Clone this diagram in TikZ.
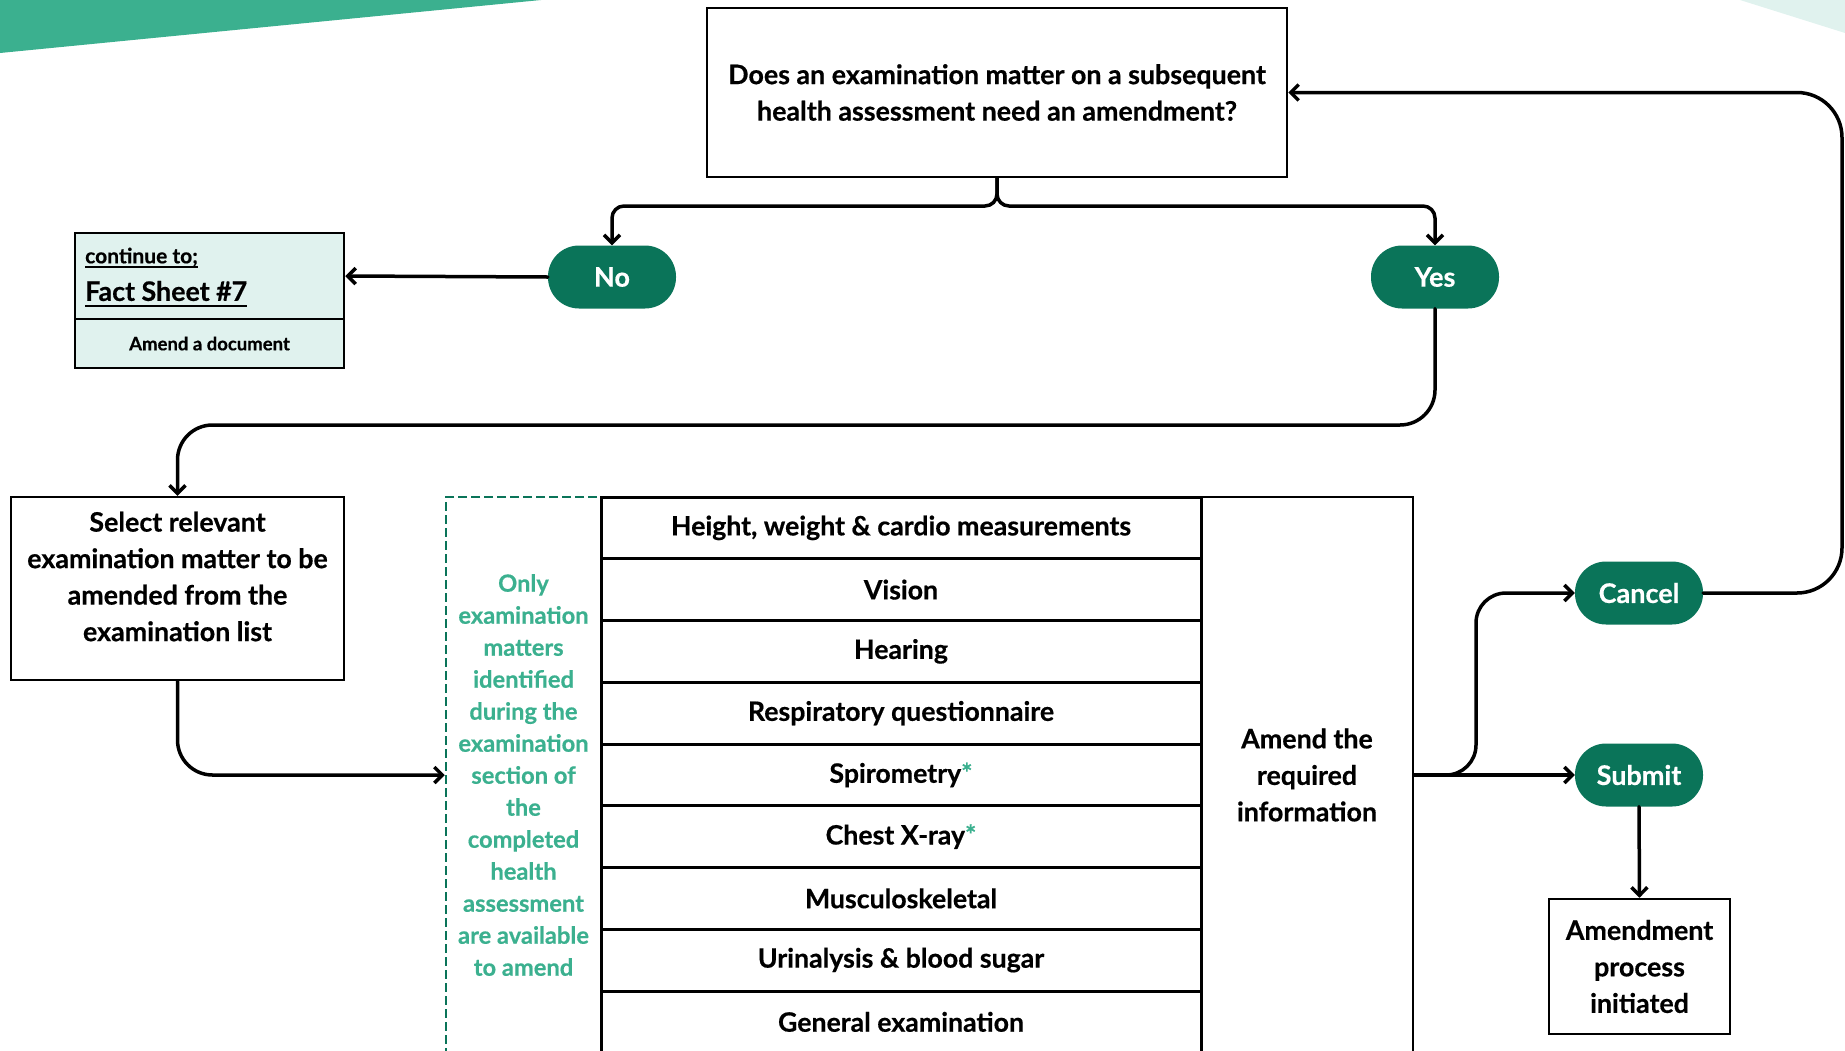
\documentclass[tikz,border=0pt]{standalone}
\usepackage{fontspec}
\setmainfont{Lato}[BoldFont={Lato Bold}, BoldFeatures={FakeBold=0.5}]
\usetikzlibrary{arrows.meta}
\definecolor{dkgreen}{HTML}{0A7459}
\definecolor{ltgreen}{HTML}{3BB08F}
\definecolor{paleteal}{HTML}{E0F2EE}
\tikzset{
  conn/.style={line width=3.5pt, line cap=round},
  arr/.style={conn, -{Straight Barb[length=8pt,width=16pt,line width=3.5pt]}},
  pill/.style={rectangle, rounded corners=31pt, fill=dkgreen, text=white,
    minimum width=128pt, minimum height=63pt, inner sep=0pt,
    font=\fontsize{27}{32}\selectfont\bfseries},
  box/.style={rectangle, draw=black, line width=2.5pt, inner sep=0pt, align=center,
    font=\fontsize{26.8}{36.5}\selectfont\bfseries},
  rowbox/.style={rectangle, draw=black, line width=3pt, inner sep=0pt,
    minimum width=600pt, minimum height=61.75pt,
    font=\fontsize{26.7}{32}\selectfont\bfseries},
}
\begin{document}
\begin{tikzpicture}[x=1pt,y=-1pt]
\useasboundingbox (0,0) rectangle (1845,1050);
\clip (0,0) rectangle (1845,1050);
% decorative corners
\fill[ltgreen] (0,0) -- (541,0) -- (0,53) -- cycle;
\fill[paleteal] (1740,0) -- (1845,0) -- (1845,33) -- cycle;

% question
\node[box, minimum width=580pt, minimum height=169pt] (q) at (997,92.5)
  {Does an examination matter on a subsequent\\health assessment need an amendment?};

% No / Yes
\node[pill] (no) at (612,277) {No};
\node[pill] (yes) at (1435,277) {Yes};

% fact sheet
\node[rectangle, draw=black, fill=paleteal, line width=2.5pt, minimum width=269pt,
  minimum height=86pt, inner sep=0pt] (fs) at (209.5,276) {};
\node[rectangle, draw=black, fill=paleteal, line width=2.5pt, minimum width=269pt,
  minimum height=49pt, inner sep=0pt, font=\fontsize{18.5}{22}\selectfont\bfseries]
  (fsb) at (209.5,343.5) {Amend a document};
\node[anchor=west, inner sep=0pt, font=\fontsize{21}{24}\selectfont\bfseries] (ct)
  at (85,257) {continue to;};
\node[anchor=west, inner sep=0pt, font=\fontsize{26.8}{30}\selectfont\bfseries] (fsn)
  at (85,291) {Fact Sheet \#7};
\draw[line width=2pt] ([yshift=-4pt]ct.base west) -- ([yshift=-4pt]ct.base east);
\draw[line width=2.5pt] ([yshift=-5pt]fsn.base west) -- ([yshift=-5pt]fsn.base east);

% select box
\node[box, minimum width=333pt, minimum height=183pt] (sel) at (177.5,588.5) {};
\node[inner sep=0pt, align=center, font=\fontsize{26.8}{36.5}\selectfont\bfseries]
  (selt) at (177.5,576.5)
  {Select relevant\\examination matter to be\\amended from the\\examination list};

% dashed box
\node[rectangle, draw=dkgreen, line width=2.5pt, dash pattern=on 9pt off 4pt,
  minimum width=155pt, minimum height=556pt, inner sep=0pt, align=center,
  text=ltgreen, font=\fontsize{23.7}{32}\selectfont\bfseries] (dash) at (523.5,775)
  {Only\\examination\\matters\\identified\\during the\\examination\\section of\\the\\completed\\health\\assessment\\are available\\to amend};

% table rows
\node[rowbox] (r1) at (901,527.875) {Height, weight \& cardio measurements};
\node[rowbox] (r2) at (901,589.625) {Vision};
\node[rowbox] (r3) at (901,651.375) {Hearing};
\node[rowbox] (r4) at (901,713.125) {Respiratory questionnaire};
\node[rowbox] (r5) at (901,774.875) {Spirometry\textcolor{ltgreen}{*}};
\node[rowbox] (r6) at (901,836.625) {Chest X-ray\textcolor{ltgreen}{*}};
\node[rowbox] (r7) at (901,898.375) {Musculoskeletal};
\node[rowbox] (r8) at (901,960.125) {Urinalysis \& blood sugar};
\node[rowbox] (r9) at (901,1021.875) {General examination};

% amend box
\node[box, minimum width=212pt, minimum height=556pt] (amend) at (1307,775)
  {Amend the\\required\\information};

% cancel / submit
\node[pill] (cancel) at (1639,593) {Cancel};
\node[pill] (submit) at (1639,775) {Submit};

% amendment initiated
\node[box, minimum width=181pt, minimum height=135pt] (amd) at (1639.5,966.5)
  {Amendment\\process\\initiated};

% connectors
\draw[arr, rounded corners=12pt] (q.south) -- (997,206) -- (612,206) -- (no.north);
\draw[arr, rounded corners=12pt] (q.south) -- (997,206) -- (1435,206) -- (yes.north);
\draw[arr] (no.west) -- (fs.east);
\draw[arr, rounded corners=35pt] (yes.south) -- (1435,425) -- (177.5,425) -- (sel.north);
\draw[arr, rounded corners=35pt] (sel.south) -- (177.5,775) -- (dash.west);
\draw[arr] (amend.east) -- (submit.west);
\draw[arr, rounded corners=30pt] (amend.east) -- (1476,775) -- (1476,593) -- (cancel.west);
\draw[arr, rounded corners=45pt] (cancel.east) -- (1842,593) -- (1842,92.5) -- (q.east);
\draw[arr] (submit.south) -- (amd.north);
\end{tikzpicture}
\end{document}
